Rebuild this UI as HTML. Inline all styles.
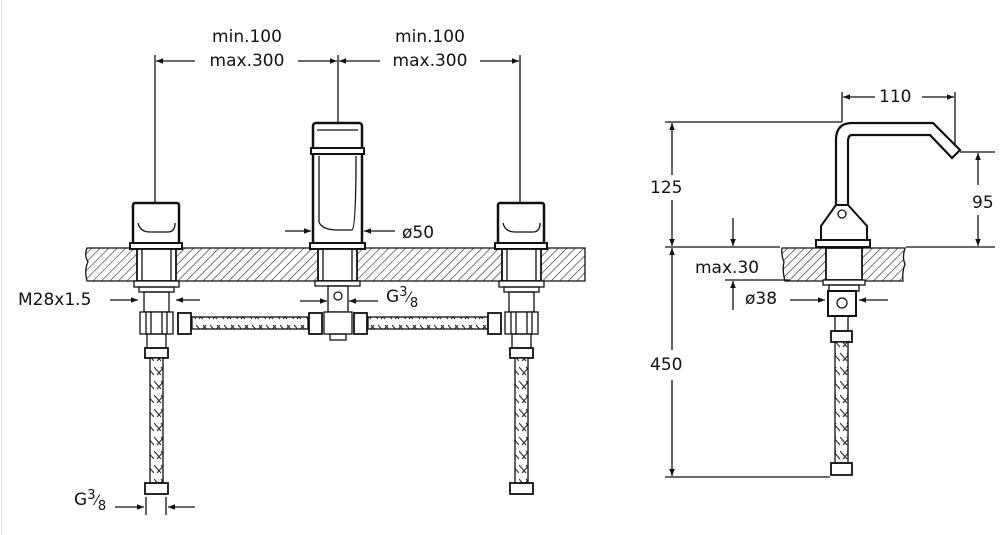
<!DOCTYPE html>
<html><head><meta charset="utf-8"><style>
html,body{margin:0;padding:0;background:#fff;}
svg{display:block;}
text{font-family:"DejaVu Sans","Liberation Sans",sans-serif;font-size:17px;fill:#111;}
</style></head><body>
<svg width="1000" height="535" viewBox="0 0 1000 535" xmlns="http://www.w3.org/2000/svg">
<defs>
<pattern id="h" width="6" height="6" patternUnits="userSpaceOnUse" patternTransform="rotate(45)">
<rect width="6" height="6" fill="#fff"/><line x1="0" y1="0" x2="0" y2="6" stroke="#333" stroke-width="1.3"/></pattern>
<pattern id="br" width="14" height="14" patternUnits="userSpaceOnUse">
<rect width="14" height="14" fill="#fff"/><path d="M0 3 L7 11 M7 3 L14 11 M3 11 L10 3" stroke="#333" stroke-width="1.2" fill="none"/></pattern>
<marker id="a" viewBox="0 0 10 10" refX="10" refY="5" markerWidth="9" markerHeight="7" orient="auto-start-reverse" markerUnits="userSpaceOnUse"><path d="M0 1 L10 5 L0 9z" fill="#111"/></marker>
</defs>
<line x1="1.5" y1="0" x2="1.5" y2="535" stroke="#ddd"/>
<g stroke="#111" fill="none" stroke-width="1.3">
<!-- counter slabs -->
<path d="M87 248 H585 V281 H87 Q84 270 88 262 Q84 255 87 248Z" fill="url(#h)"/>
<path d="M782 248 H905 Q902 258 905 264 Q902 272 903 281 H785 Q782 270 784 262 Q781 255 782 248Z" fill="url(#h)"/>

<!-- dimension top -->
<line x1="155" y1="55" x2="155" y2="203"/>
<line x1="338" y1="55" x2="338" y2="123"/>
<line x1="520" y1="55" x2="520" y2="203"/>
<line x1="195" y1="61" x2="156" y2="61" marker-end="url(#a)"/>
<line x1="298" y1="61" x2="337" y2="61" marker-end="url(#a)"/>
<line x1="380" y1="61" x2="339" y2="61" marker-end="url(#a)"/>
<line x1="480" y1="61" x2="519" y2="61" marker-end="url(#a)"/>

<!-- handles -->
<g id="hl">
<rect x="133" y="203" width="46" height="41" rx="2" stroke-width="2.5" fill="#fff"/>
<path d="M138 223 Q140 232 150 232 H168 Q175 232 175 223" />
<rect x="130" y="243" width="52" height="6" stroke-width="2" fill="#fff"/>
<rect x="137" y="249" width="39" height="32" fill="#fff" stroke-width="1.8"/>
<line x1="142" y1="249" x2="142" y2="281"/><line x1="171" y1="249" x2="171" y2="281"/>
<rect x="134" y="281" width="45" height="6" fill="#fff"/>
<rect x="139" y="287" width="35" height="5"/>
<rect x="144" y="292" width="25" height="20"/>
<rect x="140" y="312" width="33" height="22" fill="#fff"/>
<line x1="146" y1="312" x2="146" y2="334"/><line x1="151" y1="312" x2="151" y2="334"/><line x1="162" y1="312" x2="162" y2="334"/><line x1="167" y1="312" x2="167" y2="334"/>
<rect x="147" y="334" width="19" height="14"/>
<rect x="145" y="348" width="23" height="10" stroke-width="1.8"/>
<rect x="150" y="358" width="13" height="125" fill="url(#br)"/>
<rect x="145" y="483" width="23" height="11" stroke-width="1.8"/>
</g>
<use href="#hl" transform="translate(365 0)"/>

<!-- center spout -->
<rect x="313" y="123" width="49" height="121" rx="3" stroke-width="2.5" fill="#fff"/>
<line x1="317" y1="130" x2="358" y2="130"/>
<rect x="311" y="148" width="53" height="6" stroke-width="2" fill="#fff"/>
<path d="M319 156 V222 Q322 230 338 230 H352 Q356 228 356 156"/>
<rect x="310" y="243" width="55" height="6" stroke-width="2" fill="#fff"/>
<rect x="318" y="249" width="39" height="32" fill="#fff" stroke-width="1.8"/>
<line x1="323" y1="249" x2="323" y2="281"/><line x1="352" y1="249" x2="352" y2="281"/>
<rect x="315" y="281" width="45" height="5" fill="#fff"/>
<rect x="328" y="286" width="20" height="26"/>
<circle cx="338" cy="296" r="4"/>
<rect x="324" y="312" width="28" height="22" fill="#fff"/>
<rect x="330" y="334" width="16" height="6"/>

<!-- horizontal hoses -->
<rect x="192" y="317" width="116" height="12" fill="url(#br)"/>
<rect x="368" y="317" width="120" height="12" fill="url(#br)"/>
<rect x="178" y="313" width="13" height="21" stroke-width="1.8" fill="#fff"/>
<rect x="309" y="313" width="13" height="21" stroke-width="1.8" fill="#fff"/>
<rect x="354" y="313" width="13" height="21" stroke-width="1.8" fill="#fff"/>
<rect x="488" y="313" width="13" height="21" stroke-width="1.8" fill="#fff"/>

<!-- ø50 -->
<line x1="285" y1="231" x2="311" y2="231" marker-end="url(#a)"/>
<line x1="395" y1="231" x2="364" y2="231" marker-end="url(#a)"/>
<!-- M28 -->
<line x1="110" y1="300" x2="138" y2="300" marker-end="url(#a)"/>
<line x1="200" y1="300" x2="176" y2="300" marker-end="url(#a)"/>
<!-- G3/8 center -->
<line x1="300" y1="301" x2="327" y2="301" marker-end="url(#a)"/>
<line x1="378" y1="301" x2="349" y2="301" marker-end="url(#a)"/>
<!-- G3/8 bottom -->
<line x1="115" y1="507" x2="144" y2="507" marker-end="url(#a)"/>
<line x1="195" y1="507" x2="168" y2="507" marker-end="url(#a)"/>
<line x1="146" y1="497" x2="146" y2="515"/><line x1="166" y1="497" x2="166" y2="515"/>

<!-- right view -->
<line x1="665" y1="122" x2="842" y2="122"/>
<line x1="665" y1="247" x2="780" y2="247"/>
<line x1="906" y1="247" x2="995" y2="247"/>
<line x1="665" y1="477" x2="830" y2="477"/>
<line x1="672" y1="175" x2="672" y2="123" marker-end="url(#a)"/>
<line x1="672" y1="200" x2="672" y2="246" marker-end="url(#a)"/>
<line x1="672" y1="350" x2="672" y2="248" marker-end="url(#a)"/>
<line x1="672" y1="380" x2="672" y2="476" marker-end="url(#a)"/>
<!-- 110 -->
<line x1="842" y1="92" x2="842" y2="122"/>
<line x1="955" y1="92" x2="955" y2="150"/>
<line x1="875" y1="97" x2="843" y2="97" marker-end="url(#a)"/>
<line x1="922" y1="97" x2="954" y2="97" marker-end="url(#a)"/>
<!-- 95 -->
<line x1="960" y1="152" x2="995" y2="152"/>
<line x1="978" y1="185" x2="978" y2="153" marker-end="url(#a)"/>
<line x1="978" y1="215" x2="978" y2="246" marker-end="url(#a)"/>
<!-- max30 -->
<line x1="733" y1="218" x2="733" y2="246" marker-end="url(#a)"/>
<line x1="725" y1="280" x2="790" y2="280"/>
<line x1="733" y1="310" x2="733" y2="281" marker-end="url(#a)"/>
<!-- ø38 -->
<line x1="790" y1="300" x2="825" y2="300" marker-end="url(#a)"/>
<line x1="888" y1="300" x2="859" y2="300" marker-end="url(#a)"/>

<!-- spout -->
<path d="M836 205 V140 Q836 123 852 123 H933 L960 150 L952 158 L930 135 H852 Q848 135 848 142 V205" stroke-width="2.2" fill="#fff"/>
<path d="M836 205 L821 226 V240 H867 V226 L848 205 Z" stroke-width="2" fill="#fff"/>
<circle cx="842" cy="214" r="4"/>
<rect x="816" y="240" width="54" height="7" stroke-width="2" fill="#fff"/>
<rect x="826" y="248" width="36" height="32" fill="#fff" stroke-width="1.8"/>
<rect x="823" y="280" width="42" height="5" fill="#fff"/>
<rect x="829" y="285" width="30" height="6"/>
<rect x="828" y="291" width="28" height="25" stroke-width="2"/>
<circle cx="842" cy="303" r="5"/>
<rect x="835" y="316" width="13" height="15"/>
<rect x="831" y="331" width="21" height="11" stroke-width="1.8"/>
<rect x="835" y="342" width="13" height="121" fill="url(#br)"/>
<rect x="831" y="463" width="21" height="12" stroke-width="1.8"/>
</g>

<g>
<text x="247" y="42" text-anchor="middle">min.100</text>
<text x="247" y="66" text-anchor="middle">max.300</text>
<text x="430" y="42" text-anchor="middle">min.100</text>
<text x="430" y="66" text-anchor="middle">max.300</text>
<text x="402" y="238">ø50</text>
<text x="18" y="305">M28x1.5</text>
<text x="386" y="302">G<tspan font-size="13" dy="-6">3</tspan><tspan font-size="14" dy="6">⁄</tspan><tspan font-size="13" dy="5">8</tspan></text>
<text x="74" y="505">G<tspan font-size="13" dy="-6">3</tspan><tspan font-size="14" dy="6">⁄</tspan><tspan font-size="13" dy="5">8</tspan></text>
<text x="650" y="193">125</text>
<text x="650" y="370">450</text>
<text x="879" y="102">110</text>
<text x="972" y="208">95</text>
<text x="695" y="273">max.30</text>
<text x="745" y="304">ø38</text>
</g>
</svg>
</body></html>
